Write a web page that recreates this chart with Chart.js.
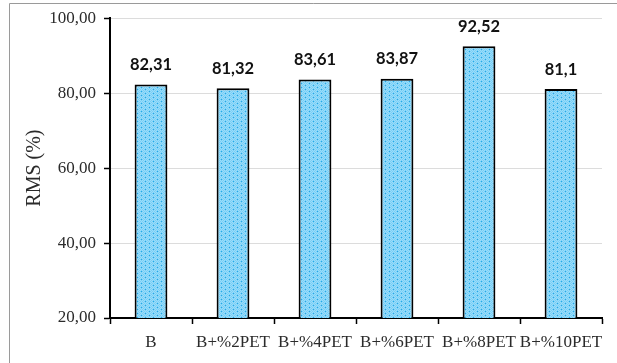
<!DOCTYPE html>
<html>
<head>
<meta charset="utf-8">
<script src="https://cdn.jsdelivr.net/npm/chart.js@4.4.1/dist/chart.umd.min.js"></script>
<style>
  html, body { margin: 0; padding: 0; background: #fff; }
  #wrap { width: 617px; height: 363px; position: relative; }
</style>
</head>
<body>
<div id="wrap"><canvas id="c" width="617" height="363"></canvas></div>
<script>
// Mixtures and their RMS values
const categories = ['B', 'B+%2PET', 'B+%4PET', 'B+%6PET', 'B+%8PET', 'B+%10PET'];
const rmsValues = [82.31, 81.32, 83.61, 83.87, 92.52, 81.1];
const yTicks = [20, 40, 60, 80, 100];

const comma = v => String(v).replace('.', ',');

// Dotted light-blue fill for the bars
function makePattern() {
  const p = document.createElement('canvas');
  p.width = 8; p.height = 8;
  const g = p.getContext('2d');
  g.fillStyle = '#78cff6';
  g.fillRect(0, 0, 8, 8);
  g.fillStyle = '#9adcfa';
  for (let y = 0; y < 8; y++) for (let x = 0; x < 8; x++) if ((x + y) % 2 === 0) g.fillRect(x, y, 1, 1);
  g.fillStyle = '#23a6e6';
  [[1, 1], [5, 3], [1, 5], [5, 7]].forEach(([x, y]) => g.fillRect(x, y, 1, 1));
  return document.getElementById('c').getContext('2d').createPattern(p, 'repeat');
}

// Light frame around the figure
const framePlugin = {
  id: 'frame',
  beforeDraw(chart) {
    const ctx = chart.ctx;
    ctx.save();
    ctx.fillStyle = '#fff';
    ctx.fillRect(0, 0, chart.width, chart.height);
    ctx.strokeStyle = '#9a9a9a';
    ctx.lineWidth = 1;
    ctx.beginPath();
    ctx.moveTo(9.5, chart.height);
    ctx.lineTo(9.5, 3.5);
    ctx.lineTo(chart.width, 3.5);
    ctx.stroke();
    ctx.restore();
  }
};

// Value labels above each bar
const valueLabels = {
  id: 'valueLabels',
  afterDatasetsDraw(chart) {
    const ctx = chart.ctx;
    const meta = chart.getDatasetMeta(0);
    ctx.save();
    ctx.font = 'bold 16.5px Lato, sans-serif';
    ctx.fillStyle = '#111';
    ctx.textAlign = 'center';
    ctx.textBaseline = 'alphabetic';
    meta.data.forEach((bar, i) => {
      ctx.save();
      ctx.translate(bar.x, bar.y - 14.5);
      ctx.scale(1, 1.08);
      ctx.fillText(comma(rmsValues[i]), 0, 0);
      ctx.restore();
    });
    ctx.restore();
  }
};

new Chart(document.getElementById('c'), {
  type: 'bar',
  data: {
    labels: categories,
    datasets: [{
      data: rmsValues,
      backgroundColor: makePattern(),
      borderColor: '#000',
      borderWidth: 2,
      borderSkipped: 'bottom',
      categoryPercentage: 1,
      barPercentage: 0.4
    }]
  },
  options: {
    responsive: false,
    animation: false,
    layout: { padding: { left: 14, top: 16, right: 15, bottom: 0 } },
    plugins: { legend: { display: false }, tooltip: { enabled: false } },
    scales: {
      x: {
        afterFit(s) { s.height = 45; },
        grid: { drawOnChartArea: false, drawTicks: true, tickLength: 6, tickColor: '#000', tickWidth: 1.5, offset: true },
        border: { display: true, color: '#000', width: 2 },
        ticks: { color: '#2b2b2b', padding: 8, font: { family: '"Liberation Serif", serif', size: 17 }, maxRotation: 0, autoSkip: false }
      },
      y: {
        min: 20, max: 100,
        afterFit(s) { s.width = 96; },
        afterBuildTicks(s) { s.ticks = yTicks.map(v => ({ value: v })); },
        grid: { color: '#dcdcdc', lineWidth: 1, drawTicks: true, tickLength: 6, tickColor: '#000', tickWidth: 1.5 },
        border: { display: true, color: '#000', width: 2 },
        ticks: {
          color: '#2b2b2b', padding: 8,
          font: { family: '"Liberation Serif", serif', size: 17 },
          callback: v => Number(v).toFixed(2).replace('.', ',')
        },
        title: {
          display: true, text: 'RMS (%)', color: '#2b2b2b',
          font: { family: '"Liberation Serif", serif', size: 20 },
          padding: { top: 9, bottom: 0 }
        }
      }
    }
  },
  plugins: [framePlugin, valueLabels]
});
</script>
</body>
</html>
